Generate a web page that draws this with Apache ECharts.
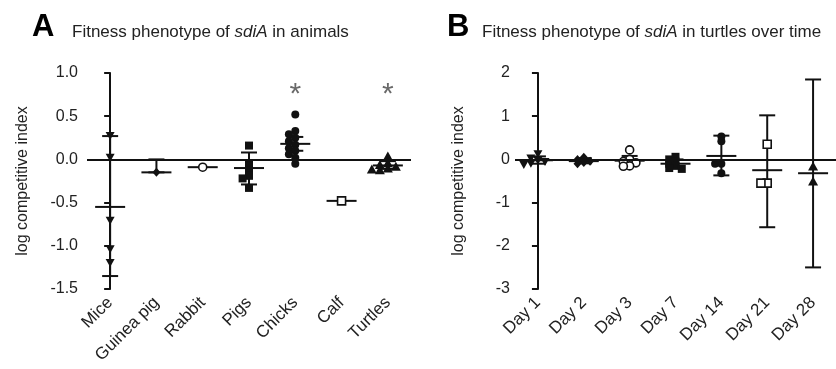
<!DOCTYPE html>
<html><head><meta charset="utf-8">
<script src="https://cdn.jsdelivr.net/npm/echarts@6/dist/echarts.min.js"></script>
<style>html,body{margin:0;padding:0;background:#fff}#c{width:836px;height:369px}</style>
</head><body><div id="c"></div>
<script>
// ---------- Panel A data ----------
const animalCats = ['Mice', 'Guinea pig', 'Rabbit', 'Pigs', 'Chicks', 'Calf', 'Turtles'];
const micePts = [0.27, 0.02, -0.71, -1.04, -1.2];
const guineaPigPts = [-0.15];
const rabbitPts = [-0.09];
const pigsPts = [0.16, -0.05, -0.13, -0.19, -0.22, -0.33];
const chicksPts = [0.52, 0.33, 0.29, 0.25, 0.21, 0.17, 0.13, 0.10, 0.06, 0.02, -0.05];
const calfPts = [-0.48];
const turtlesPts = [0.04, -0.04, -0.06, -0.08, -0.1, -0.11, -0.12];
const animalMean = [-0.55, -0.15, -0.09, -0.10, 0.18, -0.48, -0.07];
const animalErrLo = [-1.35, -0.15, null, -0.29, 0.10, null, -0.11];
const animalErrHi = [0.27, 0.0, null, 0.08, 0.26, null, -0.02];
const animalSig = ['', '', '', '', '*', '', '*'];
const animalSigLevel = 0.8;
const animalTicks = [-1.5, -1.0, -0.5, 0.0, 0.5, 1.0];

// ---------- Panel B data ----------
const dayCats = ['Day 1', 'Day 2', 'Day 3', 'Day 7', 'Day 14', 'Day 21', 'Day 28'];
const day1Pts = [0.12, 0.02, -0.03, -0.06, -0.1, -0.13];
const day2Pts = [0.05, 0.0, -0.04, -0.07, -0.1];
const day3Pts = [0.22, 0.0, -0.05, -0.08, -0.15, -0.16];
const day7Pts = [0.06, 0.0, -0.05, -0.1, -0.15, -0.2, -0.22];
const day14Pts = [0.53, 0.42, -0.1, -0.1, -0.32];
const day21Pts = [0.35, -0.55, -0.55];
const day28Pts = [-0.15, -0.5];
const dayMean = [-0.02, -0.04, -0.03, -0.10, 0.08, -0.25, -0.32];
const dayErrLo = [-0.10, -0.09, -0.12, -0.18, -0.37, -1.57, -2.5];
const dayErrHi = [0.07, 0.03, 0.08, 0.0, 0.55, 1.02, 1.85];
const dayTicks = [-3, -2, -1, 0, 1, 2];

const animalPts = [micePts, guineaPigPts, rabbitPts, pigsPts, chicksPts, calfPts, turtlesPts];
const dayPts = [day1Pts, day2Pts, day3Pts, day7Pts, day14Pts, day21Pts, day28Pts];

// ---------- styling ----------
const FONT = '"Liberation Sans", Arial, Helvetica, sans-serif';
const INK = '#111';
const TXT = '#222';
const gridA = {left: 87, top: 73, width: 324, height: 216};
const gridB = {left: 515, top: 73, width: 327, height: 216};

const MARK = {
  triDown: {symbol: 'path://M0,0L10,0L5,9Z', size: [9, 8], fill: INK, border: 0},
  triUp: {symbol: 'triangle', size: [10, 9], fill: INK, border: 0},
  diamond: {symbol: 'diamond', size: [8, 9], fill: INK, border: 0},
  circle: {symbol: 'circle', size: 8, fill: INK, border: 0},
  square: {symbol: 'rect', size: 8, fill: INK, border: 0},
  openCircle: {symbol: 'circle', size: 8, fill: '#fff', border: 1.6},
  openSquare: {symbol: 'rect', size: 8, fill: '#fff', border: 1.6}
};
const markerOrder = ['triDown', 'diamond', 'openCircle', 'square', 'circle', 'openSquare', 'triUp'];

// simple column-scatter spreading so overlapping points sit side by side
function swarm(vals, pxPerUnit, catPx, symPx) {
  const th = symPx * 0.5 / pxPerUnit;
  const step = symPx * 0.8 / catPx;
  const placed = [];
  const out = new Array(vals.length);
  const order = vals.map((v, i) => i).sort((a, b) => vals[b] - vals[a]);
  for (const i of order) {
    const v = vals[i];
    for (const k of [0, -1, 1, -2, 2, -3, 3]) {
      const off = k * step;
      const hit = placed.some(p => Math.abs(p.v - v) < th && Math.abs(p.off - off) < step * 0.99);
      if (!hit) { placed.push({v, off}); out[i] = off; break; }
    }
    if (out[i] === undefined) out[i] = 0;
  }
  return out;
}

function errSeries(xi, yi, means, lo, hi) {
  return {
    type: 'custom', xAxisIndex: xi, yAxisIndex: yi, z: 2, silent: true,
    data: means.map((m, i) => [i, m, lo[i] == null ? '-' : lo[i], hi[i] == null ? '-' : hi[i]]),
    renderItem: function (params, api) {
      const x = api.value(0), m = api.value(1), l = api.value(2), h = api.value(3);
      const pm = api.coord([x, m]);
      const st = {stroke: INK, lineWidth: 2};
      const ch = [{type: 'line', shape: {x1: pm[0] - 15, y1: pm[1], x2: pm[0] + 15, y2: pm[1]}, style: st}];
      if (!isNaN(l) && !isNaN(h)) {
        const pl = api.coord([x, l]), ph = api.coord([x, h]);
        ch.push({type: 'line', shape: {x1: pm[0], y1: pl[1], x2: pm[0], y2: ph[1]}, style: st});
        ch.push({type: 'line', shape: {x1: pm[0] - 8, y1: pl[1], x2: pm[0] + 8, y2: pl[1]}, style: st});
        ch.push({type: 'line', shape: {x1: pm[0] - 8, y1: ph[1], x2: pm[0] + 8, y2: ph[1]}, style: st});
      }
      return {type: 'group', children: ch};
    },
    markLine: {silent: true, symbol: 'none', label: {show: false},
      lineStyle: {color: INK, width: 2, type: 'solid'}, data: [{yAxis: 0}]}
  };
}

function pointSeries(xi, yi, groups, pxPerUnit, catPx) {
  return groups.map((vals, c) => {
    const mk = MARK[markerOrder[c]];
    const offs = swarm(vals, pxPerUnit, catPx, Array.isArray(mk.size) ? mk.size[0] : mk.size);
    return {
      type: 'scatter', xAxisIndex: xi, yAxisIndex: yi, z: 3, silent: true,
      symbol: mk.symbol, symbolSize: mk.size,
      itemStyle: {color: mk.fill, borderColor: INK, borderWidth: mk.border, opacity: 1},
      data: vals.map((v, i) => [c + offs[i], v])
    };
  });
}

function sigSeries(xi, yi, marks, level) {
  return {
    type: 'scatter', xAxisIndex: xi, yAxisIndex: yi, z: 4, silent: true,
    symbolSize: 1, itemStyle: {color: 'rgba(0,0,0,0)'},
    data: marks.map((t, i) => t ? {value: [i, level], name: t} : null).filter(d => d),
    label: {show: true, position: 'inside', formatter: p => p.name, fontFamily: FONT,
      fontSize: 30, color: '#444', offset: [0, 4]}
  };
}

function yAx(gi, min, max, interval, fmt, offset, nameGap) {
  return {
    type: 'value', gridIndex: gi, min: min, max: max, interval: interval, offset: offset,
    name: 'log competitive index', nameLocation: 'middle', nameGap: nameGap,
    nameTextStyle: {fontFamily: FONT, fontSize: 16, color: TXT},
    axisLine: {show: true, lineStyle: {color: INK, width: 2}},
    axisTick: {show: true, length: 6, lineStyle: {color: INK, width: 2}},
    axisLabel: {fontFamily: FONT, fontSize: 16, color: TXT, margin: 7, formatter: fmt},
    splitLine: {show: false}
  };
}
function catAx(gi, cats) {
  return {
    type: 'category', gridIndex: gi, data: cats, boundaryGap: true, position: 'bottom',
    axisLine: {show: false, onZero: false}, axisTick: {show: false},
    axisLabel: {interval: 0, rotate: 45, margin: 11, fontFamily: FONT, fontSize: 17, color: TXT},
    splitLine: {show: false}
  };
}
function valXAx(gi) {
  return {type: 'value', gridIndex: gi, min: -0.5, max: 6.5, show: false, splitLine: {show: false}};
}

const titleRich = {
  n: {fontFamily: FONT, fontSize: 17, color: TXT, fontWeight: 'normal'},
  i: {fontFamily: FONT, fontSize: 17, color: TXT, fontStyle: 'italic', fontWeight: 'normal'}
};

const chart = echarts.init(document.getElementById('c'), null, {renderer: 'canvas'});
chart.setOption({
  animation: false,
  backgroundColor: '#fff',
  title: [
    {left: 32, top: 12, padding: 0, text: 'A', textStyle: {fontFamily: FONT, fontSize: 31, fontWeight: 'bold', color: '#000'}},
    {left: 72, top: 24, padding: 0, text: '{n|Fitness phenotype of }{i|sdiA}{n| in animals}', textStyle: {fontWeight: 'normal', rich: titleRich}},
    {left: 447, top: 12, padding: 0, text: 'B', textStyle: {fontFamily: FONT, fontSize: 31, fontWeight: 'bold', color: '#000'}},
    {left: 482, top: 24, padding: 0, text: '{n|Fitness phenotype of }{i|sdiA}{n| in turtles over time}', textStyle: {fontWeight: 'normal', rich: titleRich}}
  ],
  grid: [gridA, gridB],
  xAxis: [catAx(0, animalCats), valXAx(0), catAx(1, dayCats), valXAx(1)],
  yAxis: [
    yAx(0, animalTicks[0], animalTicks[animalTicks.length - 1], 0.5, v => v.toFixed(1), 2, 54),
    yAx(1, dayTicks[0], dayTicks[dayTicks.length - 1], 1, v => String(v), -2, 50)
  ],
  series: [
    errSeries(0, 0, animalMean, animalErrLo, animalErrHi),
    ...pointSeries(1, 0, animalPts, gridA.height / 2.5, gridA.width / 7),
    sigSeries(1, 0, animalSig, animalSigLevel),
    errSeries(2, 1, dayMean, dayErrLo, dayErrHi),
    ...pointSeries(3, 1, dayPts, gridB.height / 5, gridB.width / 7)
  ]
});
</script>
</body></html>
